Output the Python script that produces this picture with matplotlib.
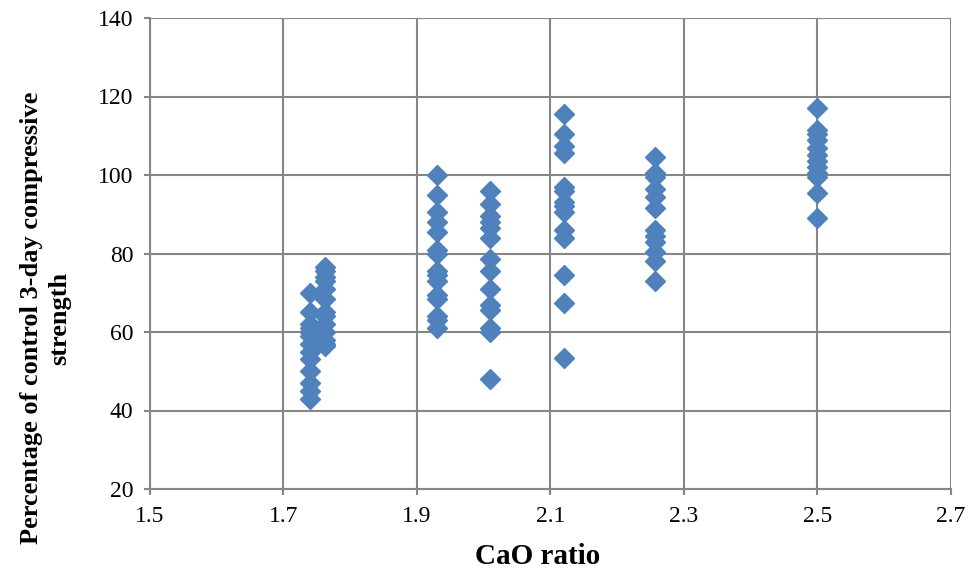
import matplotlib
matplotlib.use("Agg")
import matplotlib.pyplot as plt

# CaO ratio groups and measured relative strengths (% of control, 3-day)
x_174 = 1.74
y_174 = [70, 65, 62, 61, 60, 59, 57, 55, 53, 50, 47, 45, 43]
x_176 = 1.762
y_176 = [76.5, 75.5, 74, 73, 71, 68.5, 65, 64, 62, 60, 58, 57, 56.5]
x_193 = 1.93
y_193 = [100, 95, 90.5, 88, 85.5, 81, 80, 75.5, 74.5, 73, 69.5, 68.5, 64, 63, 61]
x_201 = 2.009
y_201 = [96, 92.5, 89.5, 88, 86.5, 84, 78.5, 75.5, 71, 67, 65.5, 61, 60, 48]
x_212 = 2.12
y_212 = [115.5, 110.5, 107.5, 105.5, 97, 96, 93, 92, 90.5, 86, 84, 74.5, 67.5, 53.5]
x_226 = 2.256
y_226 = [104.5, 100.5, 99.5, 96.5, 94.5, 91.5, 86, 84.5, 83, 80.5, 78, 73]
x_250 = 2.5
y_250 = [117, 111.5, 110.5, 109, 107, 105, 103.5, 102, 100.5, 99.5, 95.5, 89]

groups = [(x_174, y_174), (x_176, y_176), (x_193, y_193), (x_201, y_201),
          (x_212, y_212), (x_226, y_226), (x_250, y_250)]

x_ticks = [1.5, 1.7, 1.9, 2.1, 2.3, 2.5, 2.7]
y_ticks = [20, 40, 60, 80, 100, 120, 140]

plt.rcParams['font.family'] = ['Liberation Serif', 'DejaVu Serif']

W, H = 973, 576
fig = plt.figure(figsize=(W / 100, H / 100), dpi=100)
ax = fig.add_axes([150 / W, 1 - 489 / H, 801 / W, 471 / H])

xs, ys = [], []
for gx, gy in groups:
    xs.extend([gx] * len(gy))
    ys.extend(gy)
ax.plot(xs, ys, linestyle='none', marker='D', markersize=10,
        color='#4F81BD', markeredgecolor='#4F81BD', zorder=3, clip_on=False)

ax.set_xlim(1.5, 2.7)
ax.set_ylim(20, 140)
ax.set_xticks(x_ticks)
ax.set_yticks(y_ticks)
ax.set_xticklabels([f"{v:g}" for v in x_ticks])
ax.set_yticklabels([str(v) for v in y_ticks])

grid_col = '#868686'
ax.grid(True, color=grid_col, linewidth=1.5, zorder=0)
ax.set_axisbelow(True)
for s in ax.spines.values():
    s.set_color(grid_col)
    s.set_linewidth(1.5)
ax.spines['top'].set_visible(False)
ax.spines['right'].set_visible(False)
ax.tick_params(axis='both', colors=grid_col, length=4, width=1.5,
               labelsize=17, labelcolor='black')
ax.tick_params(axis='x', pad=8)
ax.tick_params(axis='y', pad=8)

# axis titles
fig.text(538 / W, 1 - 557 / H, 'CaO ratio', fontsize=21, fontweight='bold',
         ha='center', va='center')
fig.text(46 / W, 1 - 318 / H,
         'Percentage of control 3-day compressive\nstrength',
         fontsize=19, fontweight='bold', rotation=90, ha='center',
         va='center', multialignment='center', linespacing=1.3)

fig.savefig('out.png', dpi=100)
